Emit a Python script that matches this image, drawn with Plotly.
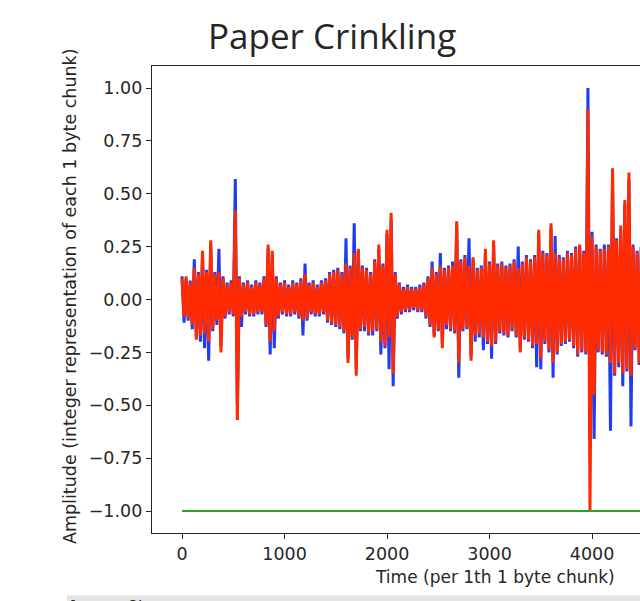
import plotly.graph_objects as go

# ---------------- data ----------------
SAMPLE_STEP = 20  # samples between stored values

red_vals = [
    0.10, -0.08, 0.11, -0.09, 0.08, -0.12, 0.15, -0.19, 0.12, -0.17,
    0.23, -0.16, 0.13, -0.20, 0.28, -0.14, 0.12, -0.10, 0.13, -0.25,
    0.10, -0.08, 0.07, -0.06, 0.08, -0.07, 0.42, -0.57, 0.10, -0.08,
    0.07, -0.06, 0.08, -0.07, 0.06, -0.07, 0.08, -0.06, 0.07, -0.06,
    0.10, -0.12, 0.26, -0.20, 0.23, -0.15, 0.10, -0.08, 0.07, -0.06,
    0.08, -0.07, 0.06, -0.07, 0.08, -0.06, 0.07, -0.08, 0.09, -0.10,
    0.12, -0.09, 0.07, -0.06, 0.08, -0.07, 0.06, -0.07, 0.08, -0.06,
    0.09, -0.10, 0.12, -0.11, 0.13, -0.12, 0.14, -0.13, 0.12, -0.15,
    0.17, -0.30, 0.15, -0.18, 0.22, -0.36, 0.24, -0.14, 0.15, -0.13,
    0.14, -0.16, 0.12, -0.15, 0.18, -0.14, 0.26, -0.20, 0.16, -0.22,
    0.33, -0.18, 0.41, -0.35, 0.12, -0.08, 0.07, -0.06, 0.05, -0.05,
    0.06, -0.05, 0.05, -0.04, 0.05, -0.05, 0.06, -0.05, 0.07, -0.08,
    0.10, -0.12, 0.15, -0.18, 0.12, -0.14, 0.16, -0.23, 0.14, -0.12,
    0.15, -0.14, 0.16, -0.15, 0.37, -0.30, 0.18, -0.14, 0.20, -0.13,
    0.16, -0.29, 0.20, -0.17, 0.14, -0.16, 0.15, -0.18, 0.24, -0.20,
    0.17, -0.22, 0.28, -0.20, 0.16, -0.15, 0.17, -0.16, 0.15, -0.17,
    0.16, -0.14, 0.18, -0.17, 0.15, -0.25, 0.17, -0.18, 0.20, -0.19,
    0.18, -0.22, 0.20, -0.21, 0.33, -0.28, 0.22, -0.20, 0.21, -0.24,
    0.36, -0.30, 0.22, -0.25, 0.20, -0.21, 0.19, -0.20, 0.22, -0.19,
    0.21, -0.22, 0.24, -0.26, 0.26, -0.24, 0.22, -0.25, 0.90, -1.00,
    0.30, -0.45, 0.25, -0.24, 0.23, -0.25, 0.24, -0.26, 0.25, -0.30,
    0.62, -0.35, 0.28, -0.30, 0.35, -0.35, 0.47, -0.33, 0.60, -0.36,
    0.25, -0.23, 0.22, -0.30, 0.24, -0.25, 0.22,
]

blue_vals = [
    0.11, -0.11, 0.10, -0.10, 0.09, -0.14, 0.19, -0.18, 0.13, -0.20,
    0.21, -0.23, 0.14, -0.29, 0.26, -0.15, 0.13, -0.12, 0.24, -0.22,
    0.11, -0.09, 0.08, -0.07, 0.09, -0.08, 0.57, -0.50, 0.11, -0.13,
    0.08, -0.07, 0.09, -0.08, 0.07, -0.08, 0.09, -0.07, 0.08, -0.07,
    0.11, -0.13, 0.24, -0.26, 0.21, -0.23, 0.11, -0.09, 0.08, -0.07,
    0.09, -0.08, 0.07, -0.08, 0.09, -0.07, 0.08, -0.09, 0.10, -0.17,
    0.17, -0.10, 0.08, -0.07, 0.09, -0.08, 0.07, -0.08, 0.09, -0.07,
    0.10, -0.11, 0.13, -0.12, 0.14, -0.13, 0.15, -0.14, 0.13, -0.16,
    0.29, -0.28, 0.16, -0.19, 0.36, -0.33, 0.23, -0.15, 0.16, -0.15,
    0.15, -0.17, 0.13, -0.17, 0.19, -0.15, 0.24, -0.26, 0.17, -0.23,
    0.31, -0.33, 0.38, -0.41, 0.13, -0.09, 0.08, -0.07, 0.06, -0.06,
    0.07, -0.06, 0.06, -0.05, 0.06, -0.06, 0.07, -0.06, 0.08, -0.09,
    0.11, -0.13, 0.18, -0.17, 0.13, -0.15, 0.22, -0.21, 0.15, -0.14,
    0.16, -0.15, 0.18, -0.16, 0.35, -0.37, 0.19, -0.15, 0.21, -0.14,
    0.29, -0.27, 0.19, -0.20, 0.15, -0.18, 0.16, -0.24, 0.22, -0.21,
    0.18, -0.28, 0.26, -0.21, 0.17, -0.16, 0.18, -0.17, 0.16, -0.18,
    0.17, -0.15, 0.19, -0.18, 0.25, -0.23, 0.18, -0.19, 0.21, -0.20,
    0.19, -0.23, 0.21, -0.32, 0.31, -0.33, 0.23, -0.21, 0.22, -0.25,
    0.34, -0.37, 0.30, -0.26, 0.21, -0.22, 0.20, -0.21, 0.23, -0.20,
    0.22, -0.23, 0.25, -0.27, 0.25, -0.25, 0.23, -0.26, 1.00, -0.67,
    0.32, -0.66, 0.26, -0.25, 0.24, -0.26, 0.26, -0.27, 0.26, -0.62,
    0.58, -0.36, 0.29, -0.32, 0.33, -0.41, 0.45, -0.34, 0.57, -0.60,
    0.26, -0.24, 0.23, -0.31, 0.25, -0.27, 0.23,
]

green_x = [0, 5860]
green_y = [-1.0, -1.0]

x_ticks = [0, 1000, 2000, 3000, 4000]
y_ticks = [1.00, 0.75, 0.50, 0.25, 0.00, -0.25, -0.50, -0.75, -1.00]
y_tick_text = ["1.00", "0.75", "0.50", "0.25", "0.00", "\u22120.25", "\u22120.50", "\u22120.75", "\u22121.00"]

title_text = "Paper Crinkling"
x_title = "Time (per 1th 1 byte chunk)"
y_title = "Amplitude (integer representation of each 1 byte chunk)"

# ---------------- figure ----------------
blue_x = [i * SAMPLE_STEP for i in range(len(blue_vals))]
red_x = [i * SAMPLE_STEP for i in range(len(red_vals))]

fig = go.Figure()
fig.add_trace(go.Scatter(x=blue_x, y=blue_vals, mode="lines",
                         line=dict(color="#1f3cf2", width=3), showlegend=False))
fig.add_trace(go.Scatter(x=red_x, y=red_vals, mode="lines",
                         line=dict(color="#ff2a00", width=3), showlegend=False))
fig.add_trace(go.Scatter(x=green_x, y=green_y, mode="lines",
                         line=dict(color="#2ca02c", width=2.2), showlegend=False))

tick_font = dict(family="DejaVu Sans", size=17.5, color="#262626")

fig.update_layout(
    width=640, height=601,
    margin=dict(l=152, r=0, t=66, b=68),
    paper_bgcolor="white", plot_bgcolor="white",
    xaxis=dict(range=[-292.7, 4468], tickvals=x_ticks, ticks="outside", ticklen=5,
               tickcolor="#262626", showgrid=False, zeroline=False,
               showline=True, linecolor="#262626", linewidth=1.2, mirror=True,
               tickfont=tick_font),
    yaxis=dict(range=[-1.104, 1.104], tickvals=y_ticks, ticktext=y_tick_text,
               ticks="outside", ticklen=5, tickcolor="#262626", showgrid=False,
               zeroline=False, showline=True, linecolor="#262626", linewidth=1.2,
               mirror=False, tickfont=tick_font),
    annotations=[
        dict(text=title_text, xref="paper", yref="paper", x=0.369, y=1.066,
             xanchor="center", yanchor="middle", showarrow=False,
             font=dict(family="Open Sans", size=35, color="#262626")),
        dict(text=x_title, xref="paper", yref="paper", x=0.703, y=-0.094,
             xanchor="center", yanchor="middle", showarrow=False,
             font=dict(family="DejaVu Sans", size=17, color="#262626")),
        dict(text=y_title, xref="paper", yref="paper", x=-0.168, y=0.5075,
             xanchor="center", yanchor="middle", showarrow=False, textangle=-90,
             font=dict(family="DejaVu Sans", size=17.5, color="#262626")),
        dict(text="[ paper8k", xref="paper", yref="paper", x=-0.172, y=-0.1338,
             xanchor="left", yanchor="top", showarrow=False,
             font=dict(family="DejaVu Sans", size=16, color="#262626")),
    ],
    shapes=[
        dict(type="rect", xref="paper", yref="paper", x0=-0.174, x1=1.0,
             y0=-0.16, y1=-0.1338, fillcolor="#e4e4e4", line=dict(width=0),
             layer="below"),
    ],
)

# remove the default page margin so the figure fills the window exactly
page_css = ("document.body.style.margin='0';"
            "document.body.style.overflow='hidden';"
            "document.documentElement.style.overflow='hidden';")

fig.write_html("out.html", post_script=page_css,
               config={"displayModeBar": False, "staticPlot": True})
